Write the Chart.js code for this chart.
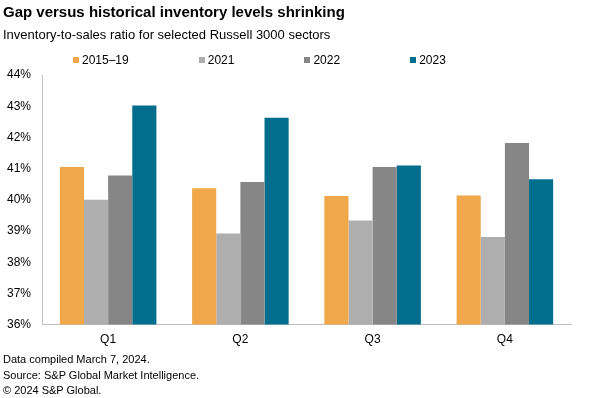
<!DOCTYPE html>
<html lang="en">
  <head>
    <meta charset="UTF-8" />
    <meta name="viewport" content="width=device-width, initial-scale=1.0" />
    <script src="https://cdn.jsdelivr.net/npm/chart.js@4.4.1/dist/chart.umd.min.js"></script>
    <style>
      body {
        margin: 0;
        width: 600px;
        height: 398px;
        position: relative;
        background: #fff;
        font-family: Arial, "Liberation Sans", sans-serif;
        color: #000;
        overflow: hidden;
      }
      #wrap {
        position: absolute;
        left: 0;
        top: 0;
        width: 600px;
        height: 398px;
      }
      .txt {
        position: absolute;
        left: 3px;
        white-space: nowrap;
      }
      #title {
        top: 3px;
        font-size: 15px;
        font-weight: bold;
      }
      #subtitle {
        top: 27px;
        font-size: 13px;
      }
      #legend {
        position: absolute;
        top: 53px;
        left: 73px;
        display: flex;
        font-size: 12px;
        line-height: 14px;
      }
      #legend .item {
        display: flex;
        align-items: center;
        margin-right: 70px;
      }
      #legend .box {
        width: 6px;
        height: 6px;
        margin-right: 3px;
      }
      #notes {
        top: 352px;
        font-size: 11px;
        line-height: 15.7px;
      }
    </style>
  </head>
  <body>
    <div id="wrap"><canvas id="myChart"></canvas></div>
    <div class="txt" id="title">Gap versus historical inventory levels shrinking</div>
    <div class="txt" id="subtitle">Inventory-to-sales ratio for selected Russell 3000 sectors</div>
    <div id="legend"></div>
    <div class="txt" id="notes">
      Data compiled March 7, 2024.<br />
      Source: S&amp;P Global Market Intelligence.<br />
      &copy; 2024 S&amp;P Global.
    </div>

    <script>
      const quarters = ["Q1", "Q2", "Q3", "Q4"];
      const seriesNames = ["2015\u201319", "2021", "2022", "2023"];
      const colors = ["#F0A84B", "#AEAEAE", "#868686", "#006E8C"];
      // inventory-to-sales ratio, percent
      const avg2015to19 = [41.05, 40.37, 40.12, 40.14];
      const y2021 = [40.0, 38.92, 39.34, 38.81];
      const y2022 = [40.78, 40.57, 41.05, 41.82];
      const y2023 = [43.02, 42.63, 41.1, 40.66];
      const yTicks = [36, 37, 38, 39, 40, 41, 42, 43, 44];

      const seriesValues = [avg2015to19, y2021, y2022, y2023];

      // html legend
      const legendEl = document.getElementById("legend");
      seriesNames.forEach((name, i) => {
        const item = document.createElement("div");
        item.className = "item";
        item.innerHTML =
          '<span class="box" style="background:' + colors[i] + '"></span>' + name;
        legendEl.appendChild(item);
      });

      const ctx = document.getElementById("myChart").getContext("2d");
      const myChart = new Chart(ctx, {
        type: "bar",
        data: {
          labels: quarters,
          datasets: seriesNames.map((name, i) => ({
            label: name,
            data: seriesValues[i],
            backgroundColor: colors[i],
            borderWidth: 0,
            barPercentage: 1,
            categoryPercentage: 0.73,
          })),
        },
        options: {
          responsive: true,
          maintainAspectRatio: false,
          animation: false,
          layout: {
            padding: { top: 75, right: 29, bottom: 43, left: 0 },
          },
          plugins: {
            legend: { display: false },
            tooltip: { enabled: false },
          },
          scales: {
            x: {
              grid: { display: false, drawTicks: false },
              border: { display: true, color: "#BFBFBF", width: 1 },
              ticks: {
                padding: 8,
                color: "#000",
                font: { family: "Arial, 'Liberation Sans'", size: 12 },
              },
            },
            y: {
              min: yTicks[0],
              max: yTicks[yTicks.length - 1],
              grid: { display: false, drawTicks: false },
              border: { display: true, color: "#BFBFBF", width: 1 },
              afterFit: (scale) => {
                scale.width = 42;
              },
              afterBuildTicks: (scale) => {
                scale.ticks = yTicks.map((v) => ({ value: v }));
              },
              ticks: {
                padding: 11,
                color: "#000",
                font: { family: "Arial, 'Liberation Sans'", size: 12 },
                callback: (value) => value + "%",
              },
            },
          },
        },
      });
    </script>
  </body>
</html>
